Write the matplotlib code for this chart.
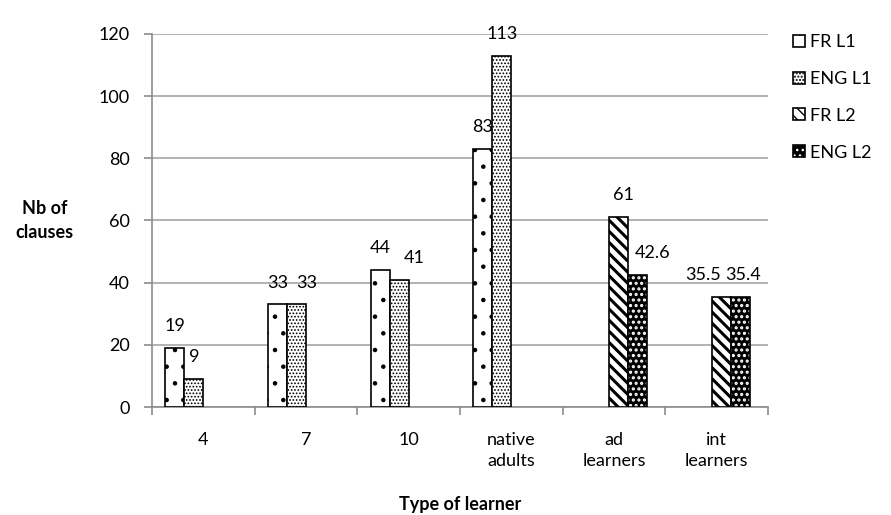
import numpy as np
import matplotlib
matplotlib.use('Agg')
import matplotlib.pyplot as plt
from matplotlib.patches import Patch

# data
categories = ['4', '7', '10', 'native\nadults', 'ad\nlearners', 'int\nlearners']
series = ['FR L1', 'ENG L1', 'FR L2', 'ENG L2']
fr_l1 = [19, 33, 44, 83, np.nan, np.nan]
eng_l1 = [9, 33, 41, 113, np.nan, np.nan]
fr_l2 = [np.nan, np.nan, np.nan, np.nan, 61, 35.5]
eng_l2 = [np.nan, np.nan, np.nan, np.nan, 42.6, 35.4]
label_text = {('FR L2', 5): '35.5', ('ENG L2', 4): '42.6', ('ENG L2', 5): '35.4'}

plt.rcParams['font.family'] = ['Lato', 'DejaVu Sans']
FS = 13

fig = plt.figure(figsize=(8.91, 5.15), dpi=100)
ax = fig.add_axes([0.1706, 0.2097, 0.6914, 0.7243])

x = np.arange(len(categories))
w = 0.185
grey = '#8c8c8c'

with plt.rc_context({'hatch.linewidth': 0.8}):
    b1 = ax.bar(x - 1.5 * w, fr_l1, w, facecolor='white', edgecolor='black', hatch='.', linewidth=1.2, zorder=3)
    b2 = ax.bar(x - 0.5 * w, eng_l1, w, facecolor='white', edgecolor='black', hatch='.....', linewidth=1.2, zorder=3)
with plt.rc_context({'hatch.linewidth': 2.2}):
    b3 = ax.bar(x + 0.25 * w, fr_l2, w, facecolor='white', edgecolor='black', hatch='\\\\\\', linewidth=1.2, zorder=3)
with plt.rc_context({'hatch.linewidth': 1.5}):
    b4 = ax.bar(x + 1.25 * w, eng_l2, w, facecolor='black', edgecolor='white', hatch='...', linewidth=0, zorder=3)
ax.bar(x + 1.25 * w, eng_l2, w, fill=False, edgecolor='black', linewidth=1.2, zorder=4)

# value labels (with the hand-dragged offsets of the original)
offsets = {('ENG L1', 1): 7, ('ENG L1', 2): 11, ('FR L2', 4): 3,
           ('ENG L2', 4): 11, ('FR L2', 5): -13, ('ENG L2', 5): 2}
for name, bars, vals in zip(series, [b1, b2, b3, b4], [fr_l1, eng_l1, fr_l2, eng_l2]):
    for i, (bar, v) in enumerate(zip(bars, vals)):
        if np.isnan(v):
            continue
        txt = label_text.get((name, i), '%g' % v)
        ax.annotate(txt, (bar.get_x() + bar.get_width() / 2, v),
                    xytext=(offsets.get((name, i), 0), 10), textcoords='offset points',
                    ha='center', va='bottom', fontsize=FS)

ax.set_ylim(0, 120)
ax.set_yticks(np.arange(0, 121, 20))
ax.set_xlim(-0.5, len(categories) - 0.5)
ax.set_xticks(x)
ax.set_xticklabels(categories, fontsize=FS, linespacing=1.4)
ax.set_xticks(np.arange(-0.5, len(categories)), minor=True)
ax.tick_params(axis='x', which='major', length=0, pad=18)
ax.tick_params(axis='x', which='minor', length=6, color=grey, width=1.2)
ax.tick_params(axis='y', length=6, color=grey, width=1.2, labelsize=FS, pad=10)

ax.grid(axis='y', color='#a6a6a6', linewidth=1.2, zorder=0)
ax.set_axisbelow(True)
for s in ['top', 'right']:
    ax.spines[s].set_visible(False)
for s in ['left', 'bottom']:
    ax.spines[s].set_color(grey)
    ax.spines[s].set_linewidth(1.2)

ax.set_ylabel('Nb of\nclauses', rotation=0, fontweight='bold', fontsize=FS, ha='center', va='center',
              linespacing=1.5)
ax.yaxis.set_label_coords(-0.174, 0.5)
ax.set_xlabel('Type of learner', fontweight='bold', fontsize=FS, labelpad=19)

with plt.rc_context({'hatch.linewidth': 1.5}):
    h4 = (Patch(facecolor='black', edgecolor='white', hatch='...', linewidth=0),
          Patch(fill=False, edgecolor='black', linewidth=1.2))
ax.legend([b1[0], b2[0], b3[4], h4], series, loc='upper left',
          bbox_to_anchor=(0.872, 0.965), bbox_transform=fig.transFigure,
          frameon=False, fontsize=FS, handlelength=0.65, handleheight=0.65,
          handletextpad=0.3, labelspacing=1.15)

fig.savefig('out.png', dpi=100)
